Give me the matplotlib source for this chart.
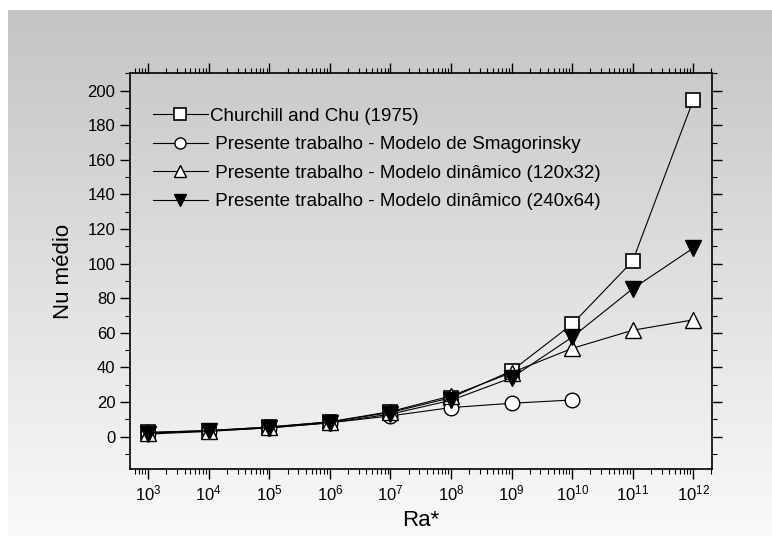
import numpy as np
import matplotlib
matplotlib.use("Agg")
import matplotlib.pyplot as plt
from matplotlib.ticker import LogLocator, MultipleLocator, LogFormatterMathtext, NullFormatter

plt.rcParams['font.family'] = ['Liberation Sans', 'DejaVu Sans']
plt.rcParams['mathtext.fontset'] = 'custom'
plt.rcParams['mathtext.rm'] = 'Liberation Sans'
plt.rcParams['mathtext.it'] = 'Liberation Sans:italic'
plt.rcParams['mathtext.bf'] = 'Liberation Sans:bold'

ra = [1e3, 1e4, 1e5, 1e6, 1e7, 1e8, 1e9, 1e10, 1e11, 1e12]
churchill = [2.5, 3.5, 5.5, 8.5, 14, 22.5, 38, 65, 101.5, 194.5]
ra_smag = [1e3, 1e4, 1e5, 1e6, 1e7, 1e8, 1e9, 1e10]
smagorinsky = [2, 3.3, 5, 8, 12, 16.8, 19.3, 21.2]
dyn_120 = [2.3, 3.5, 5.6, 8.6, 14.5, 23.5, 37, 51, 61.5, 67.5]
dyn_240 = [1.5, 3, 5.2, 8, 13, 21, 34, 57.5, 85.5, 109]

labels = ["Churchill and Chu (1975)",
          " Presente trabalho - Modelo de Smagorinsky",
          " Presente trabalho - Modelo dinâmico (120x32)",
          " Presente trabalho - Modelo dinâmico (240x64)"]

W, H = 772, 536
fig = plt.figure(figsize=(W/100, H/100), dpi=100, facecolor='white')

# gradient background panel
bg = fig.add_axes([8/W, 0, 1 - 8/W, (H - 10)/H], zorder=0)
grad = np.linspace(196, 250, 256)[:, None] / 255.0
img = np.dstack([grad, grad, grad])
bg.imshow(img, aspect='auto', extent=[0, 1, 0, 1], origin='upper')
bg.set_axis_off()

ax = fig.add_axes([130/W, 1 - 469/H, (712 - 130)/W, (469 - 73)/H], zorder=1)
ax.patch.set_alpha(0)

lw = 0.8
ax.plot(ra, churchill, '-', color='black', lw=lw, marker='s', ms=9.5, mfc='white', mec='black', mew=1.2, label=labels[0])
ax.plot(ra_smag, smagorinsky, '-', color='black', lw=lw, marker='o', ms=10.5, mfc='white', mec='black', mew=1.0, label=labels[1])
ax.plot(ra, dyn_120, '-', color='black', lw=lw, marker='^', ms=11.5, mfc='white', mec='black', mew=1.0, label=labels[2])
ax.plot(ra, dyn_240, '-', color='black', lw=lw, marker='v', ms=11.5, mfc='black', mec='black', mew=1.0, label=labels[3])

ax.set_xscale('log')
ax.set_xlim(10**2.7, 10**12.31)
ax.set_ylim(-18.7, 210.2)

ax.xaxis.set_major_locator(LogLocator(base=10, numticks=20))
ax.xaxis.set_minor_locator(LogLocator(base=10, subs=np.arange(2, 10), numticks=100))
ax.xaxis.set_major_formatter(LogFormatterMathtext())
ax.xaxis.set_minor_formatter(NullFormatter())
ax.yaxis.set_major_locator(MultipleLocator(20))
ax.yaxis.set_minor_locator(MultipleLocator(10))
ax.set_yticks(range(0, 201, 20))

ax.tick_params(axis='both', which='major', direction='out', length=7, width=1.0,
               labelsize=12, top=True, right=True, labeltop=False, labelright=False)
ax.tick_params(axis='both', which='minor', direction='out', length=3.5, width=0.8,
               top=True, right=True)
for s in ax.spines.values():
    s.set_linewidth(1.2)

ax.set_xlabel('Ra*', fontsize=16, labelpad=5)
ax.set_ylabel('Nu médio', fontsize=16, labelpad=10)

leg = ax.legend(loc='upper left', bbox_to_anchor=(0.04, 0.912), frameon=False,
                fontsize=13.5, handlelength=2.9, handletextpad=0.1, numpoints=1,
                labelspacing=0.6, borderaxespad=0, borderpad=0)
for h in leg.legend_handles:
    h.set_markersize(8)

fig.savefig('out.png', dpi=100, facecolor='white')
